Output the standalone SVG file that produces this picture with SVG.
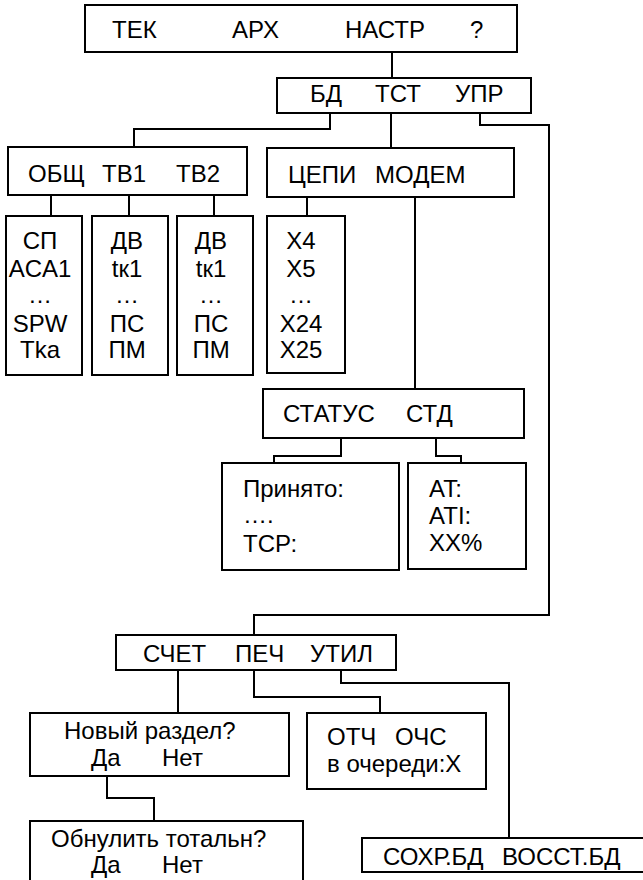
<svg xmlns="http://www.w3.org/2000/svg" width="643" height="880" viewBox="0 0 643 880">
<style>
rect{fill:#fff;stroke:#000;stroke-width:2}
.c path{fill:none;stroke:#000;stroke-width:2}
text{font-family:"Liberation Sans",Arial,sans-serif;font-size:24px;fill:#000}
.m{text-anchor:middle}
</style>
<rect x="0" y="0" width="643" height="880" style="stroke:none"/>
<g class="c" id="connectors">
<path d="M392 52V78"/>
<path d="M330 113V129H134V147"/>
<path d="M391 113V148"/>
<path d="M480 113V125H549V615H254V635"/>
<path d="M51 195V216M129 195V216M214 195V216"/>
<path d="M307 197V216"/>
<path d="M415 197V389"/>
<path d="M341 438V456H274V463"/>
<path d="M436 438V456H461V463"/>
<path d="M178 670V713"/>
<path d="M254 670V697H380V713"/>
<path d="M341 670V683H509V838"/>
<path d="M107 776V798H154V821"/>
</g>
<g id="main"><rect x="85" y="5" width="432" height="47"/><text y="38"><tspan x="112">ТЕК</tspan><tspan x="232">АРХ</tspan><tspan x="345">НАСТР</tspan><tspan x="470">?</tspan></text></g>
<g id="nastr"><rect x="277" y="78" width="254" height="35"/><text y="102"><tspan x="310">БД</tspan><tspan x="375">ТСТ</tspan><tspan x="455">УПР</tspan></text></g>
<g id="bd"><rect x="8" y="147" width="239" height="48"/><text y="182"><tspan x="28">ОБЩ</tspan><tspan x="102">ТВ1</tspan><tspan x="176">ТВ2</tspan></text></g>
<g id="tst"><rect x="267" y="148" width="247" height="49"/><text y="183"><tspan x="288">ЦЕПИ</tspan><tspan x="375">МОДЕМ</tspan></text></g>
<g id="obsh"><rect x="6" y="216" width="76" height="159"/><text class="m"><tspan x="40" y="249">СП</tspan><tspan x="40" y="277">ACA1</tspan><tspan x="40" y="303">…</tspan><tspan x="40" y="332">SPW</tspan><tspan x="40" y="358">Tka</tspan></text></g>
<g id="tv1"><rect x="92" y="216" width="76" height="159"/><text class="m"><tspan x="127" y="249">ДВ</tspan><tspan x="127" y="277">tк1</tspan><tspan x="127" y="303">…</tspan><tspan x="127" y="332">ПС</tspan><tspan x="127" y="358">ПМ</tspan></text></g>
<g id="tv2"><rect x="177" y="216" width="76" height="159"/><text class="m"><tspan x="211" y="249">ДВ</tspan><tspan x="211" y="277">tк1</tspan><tspan x="211" y="303">…</tspan><tspan x="211" y="332">ПС</tspan><tspan x="211" y="358">ПМ</tspan></text></g>
<g id="cepi"><rect x="267" y="216" width="78" height="157"/><text class="m"><tspan x="301" y="249">X4</tspan><tspan x="301" y="277">X5</tspan><tspan x="301" y="303">…</tspan><tspan x="301" y="332">X24</tspan><tspan x="301" y="358">X25</tspan></text></g>
<g id="modem"><rect x="263" y="389" width="261" height="49"/><text y="422"><tspan x="283">СТАТУС</tspan><tspan x="406">СТД</tspan></text></g>
<g id="status"><rect x="222" y="463" width="177" height="107"/><text><tspan x="243" y="497">Принято:</tspan><tspan x="243" y="523">….</tspan><tspan x="243" y="552">ТСР:</tspan></text></g>
<g id="std"><rect x="408" y="463" width="118" height="106"/><text><tspan x="429" y="497">AT:</tspan><tspan x="429" y="524">ATI:</tspan><tspan x="429" y="551">XX%</tspan></text></g>
<g id="upr"><rect x="116" y="635" width="280" height="35"/><text y="662"><tspan x="143">СЧЕТ</tspan><tspan x="235">ПЕЧ</tspan><tspan x="310">УТИЛ</tspan></text></g>
<g id="schet"><rect x="30" y="713" width="259" height="63"/><text><tspan x="64" y="739">Новый раздел?</tspan><tspan x="91" y="766">Да</tspan><tspan x="162" y="766">Нет</tspan></text></g>
<g id="obnul"><rect x="30" y="821" width="273" height="70"/><text><tspan x="51" y="847">Обнулить тотальн?</tspan><tspan x="91" y="873">Да</tspan><tspan x="162" y="873">Нет</tspan></text></g>
<g id="pech"><rect x="307" y="713" width="179" height="76"/><text><tspan x="327" y="745">ОТЧ</tspan><tspan x="395" y="745">ОЧС</tspan><tspan x="327" y="772">в очереди:X</tspan></text></g>
<g id="util"><rect x="362" y="838" width="284" height="34"/><text y="865"><tspan x="383">СОХР.БД</tspan><tspan x="502">ВОССТ.БД</tspan></text></g>
</svg>
